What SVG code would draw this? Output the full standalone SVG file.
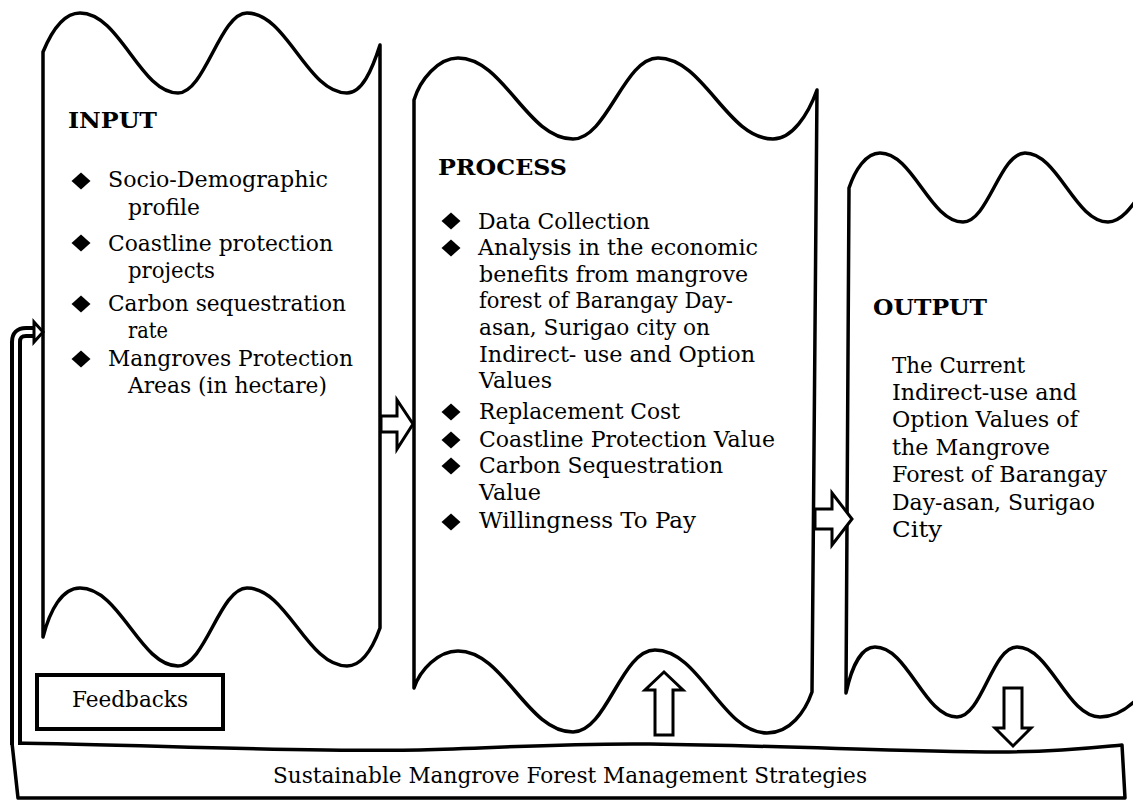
<svg xmlns="http://www.w3.org/2000/svg" width="1133" height="800" viewBox="0 0 1133 800">
<style>
.box{fill:#fff;stroke:#000;stroke-width:3.5;stroke-linejoin:round}
.t{font-family:"DejaVu Serif","Liberation Serif",serif;font-size:22px;fill:#000}
.h{font-weight:bold}
.arr{fill:#fff;stroke:#000;stroke-width:3;stroke-linejoin:miter}
.dia{fill:#000}
</style>
<defs>
<path id="d" class="dia" d="M0,-8.5 L9.5,0 L0,8.5 L-9.5,0 Z"/>
</defs>
<rect width="1133" height="800" fill="#fff"/>

<g id="strategies">
<path class="box" d="M12,743 C150,745 300,752 420,750 C500,748 560,743 650,744 C800,746 900,752 1000,752 C1060,752 1100,747 1122,745 L1125,798 L18,798 Z"/>
<text class="t" x="273" y="783" textLength="594" lengthAdjust="spacingAndGlyphs">Sustainable Mangrove Forest Management Strategies</text>
</g>

<g id="input">
<path class="box" d="M43,52 C50,35 62,13 80,13 C120,13 140,93 178,93 C205,93 220,13 247,13 C287,13 307,93 347,93 C362,93 372,70 380,45 L380,628 C372,650 362,666 347,666 C307,666 287,588 247,588 C220,588 205,666 178,666 C140,666 120,588 80,588 C62,588 50,610 43,637 Z"/>
<text class="t h" x="68" y="128" textLength="89" lengthAdjust="spacingAndGlyphs">INPUT</text>
<use href="#d" x="81" y="181"/>
<use href="#d" x="81" y="243"/>
<use href="#d" x="81" y="304"/>
<use href="#d" x="81" y="359"/>
<text class="t" x="108" y="187" textLength="220" lengthAdjust="spacingAndGlyphs">Socio-Demographic</text>
<text class="t" x="128" y="215" textLength="72" lengthAdjust="spacingAndGlyphs">profile</text>
<text class="t" x="108" y="251" textLength="225" lengthAdjust="spacingAndGlyphs">Coastline protection</text>
<text class="t" x="128" y="278" textLength="87" lengthAdjust="spacingAndGlyphs">projects</text>
<text class="t" x="108" y="311" textLength="238" lengthAdjust="spacingAndGlyphs">Carbon sequestration</text>
<text class="t" x="128" y="338" textLength="40" lengthAdjust="spacingAndGlyphs">rate</text>
<text class="t" x="108" y="366" textLength="245" lengthAdjust="spacingAndGlyphs">Mangroves Protection</text>
<text class="t" x="128" y="393" textLength="199" lengthAdjust="spacingAndGlyphs">Areas (in hectare)</text>
</g>

<g id="process">
<path class="box" d="M414,100 C420,80 438,58 458,58 C504,58 527,139 573,139 C607,139 624,58 658,58 C704,58 727,139 773,139 C792,139 808,115 817,90 L812,692 C805,712 790,733 767,733 C722,733 700,650 655,650 C621,650 607,732 573,732 C527,732 504,651 458,651 C438,651 420,670 414,688 Z"/>
<text class="t h" x="438" y="175" textLength="129" lengthAdjust="spacingAndGlyphs">PROCESS</text>
<use href="#d" x="451" y="221"/>
<use href="#d" x="451" y="248"/>
<use href="#d" x="451" y="412"/>
<use href="#d" x="451" y="440"/>
<use href="#d" x="451" y="466"/>
<use href="#d" x="451" y="522"/>
<text class="t" x="478" y="229" textLength="172" lengthAdjust="spacingAndGlyphs">Data Collection</text>
<text class="t" x="478" y="255" textLength="280" lengthAdjust="spacingAndGlyphs">Analysis in the economic</text>
<text class="t" x="479" y="282" textLength="269" lengthAdjust="spacingAndGlyphs">benefits from mangrove</text>
<text class="t" x="479" y="308" textLength="254" lengthAdjust="spacingAndGlyphs">forest of Barangay Day-</text>
<text class="t" x="479" y="335" textLength="231" lengthAdjust="spacingAndGlyphs">asan, Surigao city on</text>
<text class="t" x="479" y="362" textLength="276" lengthAdjust="spacingAndGlyphs">Indirect- use and Option</text>
<text class="t" x="479" y="388" textLength="73" lengthAdjust="spacingAndGlyphs">Values</text>
<text class="t" x="479" y="419" textLength="201" lengthAdjust="spacingAndGlyphs">Replacement Cost</text>
<text class="t" x="479" y="447" textLength="296" lengthAdjust="spacingAndGlyphs">Coastline Protection Value</text>
<text class="t" x="479" y="473" textLength="244" lengthAdjust="spacingAndGlyphs">Carbon Sequestration</text>
<text class="t" x="479" y="500" textLength="62" lengthAdjust="spacingAndGlyphs">Value</text>
<text class="t" x="479" y="528" textLength="217" lengthAdjust="spacingAndGlyphs">Willingness To Pay</text>
</g>

<g id="output">
<path class="box" d="M849,188 C855,170 866,153 880,153 C913,153 930,222 963,222 C988,222 1000,153 1025,153 C1058,153 1075,222 1108,222 C1122,222 1133,205 1145,188 L1145,690 C1133,705 1118,717 1100,717 C1067,717 1050,647 1017,647 C992,647 982,717 957,717 C924,717 908,647 875,647 C862,647 852,665 846,693 Z"/>
<text class="t h" x="873" y="315" textLength="114" lengthAdjust="spacingAndGlyphs">OUTPUT</text>
<text class="t" x="892" y="373" textLength="133" lengthAdjust="spacingAndGlyphs">The Current</text>
<text class="t" x="892" y="400" textLength="185" lengthAdjust="spacingAndGlyphs">Indirect-use and</text>
<text class="t" x="892" y="427" textLength="186" lengthAdjust="spacingAndGlyphs">Option Values of</text>
<text class="t" x="892" y="455" textLength="158" lengthAdjust="spacingAndGlyphs">the Mangrove</text>
<text class="t" x="892" y="482" textLength="215" lengthAdjust="spacingAndGlyphs">Forest of Barangay</text>
<text class="t" x="892" y="510" textLength="203" lengthAdjust="spacingAndGlyphs">Day-asan, Surigao</text>
<text class="t" x="892" y="537" textLength="50" lengthAdjust="spacingAndGlyphs">City</text>
</g>

<g id="feedbacks">
<rect x="37" y="675" width="186" height="54" fill="#fff" stroke="#000" stroke-width="4"/>
<text class="t" x="72" y="707" textLength="116" lengthAdjust="spacingAndGlyphs">Feedbacks</text>
</g>

<g id="connectors">
<path d="M16,745 L16,342 Q16,332 26,332 L36,332" fill="none" stroke="#000" stroke-width="12"/>
<path d="M16,745 L16,342 Q16,332 26,332 L38,332" fill="none" stroke="#fff" stroke-width="4"/>
<polygon class="arr" points="34,322 43,332 34,342"/>
<polygon class="arr" points="381,416 397,416 397,400 413,424 397,449 397,432 381,432"/>
<polygon class="arr" points="815,509 832,509 832,493 852,519 832,545 832,529 815,529"/>
<polygon class="arr" points="655,735 655,690 645,690 664,672 683,690 673,690 673,735"/>
<polygon class="arr" points="1004,688 1022,688 1022,728 1031,728 1013,746 995,728 1004,728"/>
</g>
</svg>
